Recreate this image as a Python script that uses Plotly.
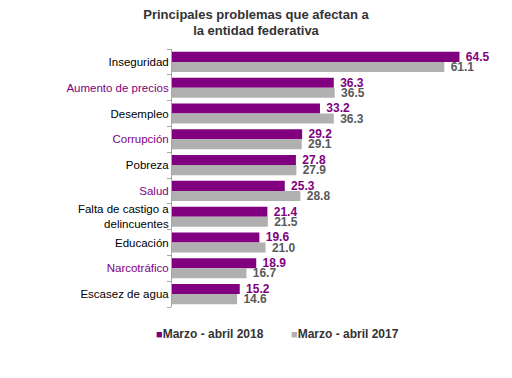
import plotly.graph_objects as go

categories = ["Inseguridad", "Aumento de precios", "Desempleo", "Corrupción", "Pobreza",
              "Salud", "Falta de castigo a<br>delincuentes", "Educación", "Narcotráfico",
              "Escasez de agua"]
label_colors = ["#000000", "#800080", "#000000", "#800080", "#000000",
                "#800080", "#000000", "#000000", "#800080", "#000000"]
values_2018 = [64.5, 36.3, 33.2, 29.2, 27.8, 25.3, 21.4, 19.6, 18.9, 15.2]
values_2017 = [61.1, 36.5, 36.3, 29.1, 27.9, 28.8, 21.5, 21.0, 16.7, 14.6]
series_names = ["Marzo - abril 2018", "Marzo - abril 2017"]

PURPLE = "#800080"
GRAY = "#B0B0B0"
FONT = "Arial, Liberation Sans, sans-serif"

# page has an 8px body margin, so figure coords = picture coords - 8
OFF = 8
W, H = 512 - OFF, 378 - OFF
PLOT_L, PLOT_W, PLOT_T, PLOT_B = 172 - OFF, 312, 49 - OFF, 307 - OFF
PLOT_H = PLOT_B - PLOT_T

fig = go.Figure()
fig.add_trace(go.Bar(
    y=categories, x=values_2018, orientation="h", name=series_names[0],
    marker=dict(color=PURPLE, line=dict(width=0)),
    text=[f"\u00a0{v:.1f}" for v in values_2018], textposition="outside", constraintext="none",
    textfont=dict(color=PURPLE, size=12, family=FONT, weight="bold"),
    cliponaxis=False, showlegend=False,
))
fig.add_trace(go.Bar(
    y=categories, x=values_2017, orientation="h", name=series_names[1],
    marker=dict(color=GRAY, line=dict(width=0)),
    text=[f"\u00a0{v:.1f}" for v in values_2017], textposition="outside", constraintext="none",
    textfont=dict(color="#595959", size=12, family=FONT, weight="bold"),
    cliponaxis=False, showlegend=False,
))

ticktext = [f"<span style='color:{c}'>{t}</span>" for t, c in zip(categories, label_colors)]

# legend drawn as annotations (small square + label)
legend_items = [(series_names[0], PURPLE, 154 - OFF), (series_names[1], GRAY, 289 - OFF)]
annotations = []
for name, col, px in legend_items:
    annotations.append(dict(
        text=f"<span style='color:{col};font-size:11px'>■</span><b>{name}</b>",
        x=(px - PLOT_L) / PLOT_W, xref="paper", xanchor="left",
        y=(PLOT_B - (334 - OFF)) / PLOT_H, yref="paper", yanchor="middle",
        showarrow=False, font=dict(size=12, color="#333333", family=FONT),
    ))

fig.update_layout(
    width=W, height=H,
    margin=dict(l=PLOT_L, r=W - PLOT_L - PLOT_W, t=PLOT_T, b=H - PLOT_B, autoexpand=False),
    paper_bgcolor="white", plot_bgcolor="white",
    barmode="group", bargap=0.22, bargroupgap=0,
    font=dict(family=FONT, size=11, color="#000000"),
    title=dict(text="<b>Principales problemas que afectan a<br>la entidad federativa</b>",
               x=(256 - OFF) / W, xref="container", xanchor="center",
               y=1 - 10.5 / H, yref="container", yanchor="top",
               font=dict(size=13, color="#333333", family=FONT)),
    xaxis=dict(range=[0, 70], showticklabels=False, showgrid=False, zeroline=False,
               showline=False, ticks="", automargin=False),
    yaxis=dict(autorange="reversed", tickmode="array", tickvals=categories, ticktext=ticktext,
               showline=True, linecolor="#A6A6A6", linewidth=1,
               ticks="outside", ticklen=4, tickcolor="#A6A6A6", tickson="boundaries",
               tickfont=dict(size=11.5, family=FONT), showgrid=False, automargin=False),
    annotations=annotations,
    showlegend=False,
)

fig.write_html("out.html")
